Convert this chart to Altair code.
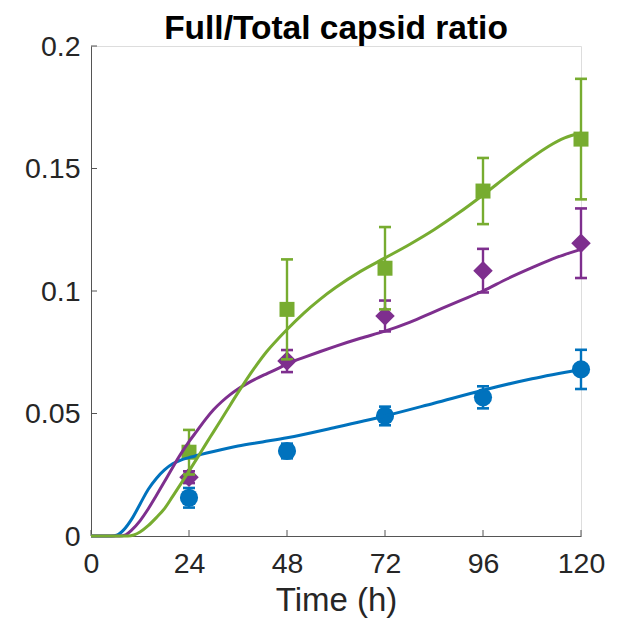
import altair as alt
import pandas as pd

# ---- data ----
times = [24, 48, 72, 96, 120]
series_names = ["Series 1", "Series 2", "Series 3"]
series_colors = ["#0072BD", "#7E2F8E", "#77AC30"]
series_shapes = ["circle", "diamond", "square"]
series_sizes = [330, 380, 225]

blue_mean = [0.0156, 0.0347, 0.0490, 0.0566, 0.0680]
blue_err = [0.0040, 0.0030, 0.0038, 0.0045, 0.0080]
purple_mean = [0.0240, 0.0714, 0.0898, 0.1083, 0.1195]
purple_err = [0.0024, 0.0045, 0.0063, 0.0089, 0.0142]
green_mean = [0.0342, 0.0925, 0.1093, 0.1408, 0.1620]
green_err = [0.0091, 0.0204, 0.0168, 0.0135, 0.0246]

blue_curve_t = [0, 5, 6.5, 8, 10, 12, 14, 16, 18, 20, 22, 24, 27, 30, 36, 42, 48,
                60, 72, 84, 96, 108, 120]
blue_curve_v = [0, 0, 0.0005, 0.0025, 0.0070, 0.0130, 0.0190, 0.0235, 0.0270,
                0.0295, 0.0310, 0.0320, 0.0333, 0.0345, 0.0367, 0.0384, 0.0401,
                0.0444, 0.0490, 0.0542, 0.0595, 0.0642, 0.0680]

purple_curve_t = [0, 7, 8.5, 10, 12, 14, 16, 18, 20, 22, 24, 26, 28, 30, 32, 34,
                  36, 38, 40, 43, 46, 48, 52, 56, 60, 66, 72, 78, 84, 90, 96, 102,
                  108, 114, 120]
purple_curve_v = [0, 0, 0.0005, 0.0025, 0.0062, 0.0110, 0.0165, 0.0222, 0.0280,
                  0.0335, 0.0385, 0.0430, 0.0475, 0.0515, 0.0548, 0.0576, 0.0600,
                  0.0620, 0.0638, 0.0662, 0.0685, 0.0703, 0.0728, 0.0752, 0.0775,
                  0.0807, 0.0836, 0.0872, 0.0915, 0.0958, 0.1000, 0.1050, 0.1095,
                  0.1137, 0.1170]

green_curve_t = [0, 9, 10.5, 12, 14, 16, 18, 20, 22, 24, 26, 28, 30, 33, 36, 40,
                 43, 46, 48, 52, 56, 60, 66, 72, 78, 84, 90, 96, 102, 108, 112,
                 116, 120]
green_curve_v = [0, 0, 0.0004, 0.0016, 0.0042, 0.0075, 0.0112, 0.0162, 0.0213,
                 0.0265, 0.0318, 0.0372, 0.0425, 0.0505, 0.0585, 0.0685, 0.0752,
                 0.0808, 0.0843, 0.0908, 0.0965, 0.1015, 0.1080, 0.1135, 0.1190,
                 0.1250, 0.1318, 0.1392, 0.1470, 0.1545, 0.1590, 0.1625, 0.1645]

x_ticks = [0, 24, 48, 72, 96, 120]
y_ticks = [0, 0.05, 0.1, 0.15, 0.2]

title_text = "Full/Total capsid ratio"
x_title = "Time (h)"

# ---- tables ----
means = [blue_mean, purple_mean, green_mean]
errs = [blue_err, purple_err, green_err]
curves = [(blue_curve_t, blue_curve_v), (purple_curve_t, purple_curve_v),
          (green_curve_t, green_curve_v)]

pts_rows, cap_rows, curve_rows = [], [], []
for name, m, e in zip(series_names, means, errs):
    for t, mv, ev in zip(times, m, e):
        pts_rows.append({"series": name, "t": t, "mean": mv, "lo": mv - ev, "hi": mv + ev})
        cap_rows.append({"series": name, "t": t, "y": mv - ev})
        cap_rows.append({"series": name, "t": t, "y": mv + ev})
for name, (ct, cv) in zip(series_names, curves):
    for t, v in zip(ct, cv):
        curve_rows.append({"series": name, "t": t, "v": v})

pts = pd.DataFrame(pts_rows)
caps = pd.DataFrame(cap_rows)
curve_df = pd.DataFrame(curve_rows)
xt = pd.DataFrame({"t": x_ticks})
yt = pd.DataFrame({"y": y_ticks})

FONT = "Liberation Sans"
AX = "#262626"
DOM = "#555555"

xscale = alt.Scale(domain=[0, 120], nice=False, zero=False)
yscale = alt.Scale(domain=[0, 0.2], nice=False)
xaxis = alt.Axis(values=x_ticks, format="d", ticks=False, tickSize=0, grid=False,
                 domainColor=DOM, domainWidth=1, labelFont=FONT, labelFontSize=28.5,
                 labelColor=AX, labelPadding=13, title=x_title, titleFont=FONT,
                 titleFontSize=33, titleFontWeight="normal", titleColor=AX,
                 titlePadding=7, labelFlush=False)
yaxis = alt.Axis(values=y_ticks, format="~g", ticks=False, tickSize=0, grid=False,
                 domainColor=DOM, domainWidth=1, labelFont=FONT, labelFontSize=28.5,
                 labelColor=AX, labelPadding=11, title=None, labelFlush=False)

xtick_layer = alt.Chart(xt).mark_rule(color=DOM, strokeWidth=1).encode(
    x=alt.X("t:Q", scale=xscale, axis=xaxis),
    y=alt.value(490), y2=alt.value(484))
ytick_layer = alt.Chart(yt).mark_rule(color=DOM, strokeWidth=1).encode(
    y=alt.Y("y:Q", scale=yscale, axis=yaxis),
    x=alt.value(0), x2=alt.value(6))

layers = [xtick_layer, ytick_layer]

for name, col, shp, sz in zip(series_names, series_colors, series_shapes, series_sizes):
    p = alt.Chart(pts).transform_filter(alt.datum.series == name)
    c = alt.Chart(caps).transform_filter(alt.datum.series == name)
    bars = p.mark_rule(color=col, strokeWidth=2.4).encode(
        x=alt.X("t:Q", scale=xscale, axis=xaxis),
        y=alt.Y("lo:Q", scale=yscale, axis=yaxis), y2="hi:Q")
    capm = c.mark_tick(color=col, orient="horizontal", size=12, thickness=2.6,
                       opacity=1).encode(
        x=alt.X("t:Q", scale=xscale, axis=xaxis),
        y=alt.Y("y:Q", scale=yscale, axis=yaxis))
    marks = p.mark_point(filled=True, shape=shp, size=sz, color=col, opacity=1,
                         strokeWidth=0).encode(
        x=alt.X("t:Q", scale=xscale, axis=xaxis),
        y=alt.Y("mean:Q", scale=yscale, axis=yaxis))
    layers += [bars, capm, marks]

for name, col in zip(series_names, series_colors):
    line = alt.Chart(curve_df).transform_filter(alt.datum.series == name).mark_line(
        color=col, strokeWidth=3, interpolate="monotone").encode(
        x=alt.X("t:Q", scale=xscale, axis=xaxis),
        y=alt.Y("v:Q", scale=yscale, axis=yaxis),
        order="t:Q")
    layers.append(line)

chart = alt.layer(*layers).properties(
    width=490, height=490,
    autosize=alt.AutoSizeParams(type="none"),
    padding={"left": 91, "top": 46, "right": 38, "bottom": 87},
    title=alt.TitleParams(title_text, font=FONT, fontSize=33.5, fontWeight="bold",
                          color="#000000", anchor="middle", baseline="alphabetic",
                          offset=0, dy=40),
).configure_view(stroke="transparent").configure(background="white")

chart.save("out.html", embed_options={"renderer": "svg", "actions": False})
